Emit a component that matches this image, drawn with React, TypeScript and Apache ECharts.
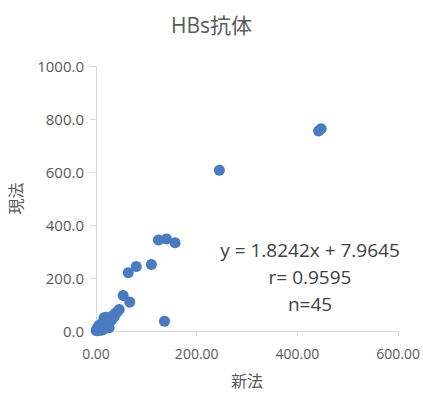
import React, { useEffect, useRef } from "react";
import * as echarts from "echarts";

const title = "HBs抗体";
const xName = "新法";
const yName = "現法";
const annotationLines = ["y = 1.8242x + 7.9645", "r= 0.9595", "n=45"];

const xTicks = [0, 200, 400, 600];
const yTicks = [0, 200, 400, 600, 800, 1000];

const newMethod = [
  442, 447, 245, 124, 140, 157, 110, 80, 64, 54, 67, 136, 46,
  38, 34, 30, 27, 24, 20, 16, 22, 18, 14, 10, 6, 4, 2, 1, 0.5, 3,
  8, 12, 16, 20, 24, 28, 32, 20, 26, 7, 11, 5, 15, 36, 42,
];
const currentMethod = [
  755, 763, 607, 343, 347, 333, 251, 243, 220, 134, 109, 37, 81,
  66, 58, 52, 48, 44, 52, 50, 38, 34, 30, 26, 22, 14, 8, 4, 2, 1,
  5, 12, 18, 22, 28, 36, 44, 10, 12, 10, 3, 5, 8, 54, 72,
];

const FONT = "'Open Sans', 'Noto Sans CJK JP', sans-serif";

export default function App() {
  const ref = useRef<HTMLDivElement>(null);
  useEffect(() => {
    if (!ref.current) return;
    const chart = echarts.init(ref.current, undefined, { renderer: "svg" });
    const data = newMethod.map((x, i) => [x, currentMethod[i]]);
    chart.setOption({
      animation: false,
      backgroundColor: "#ffffff",
      textStyle: { fontFamily: FONT },
      title: {
        text: title,
        left: "center",
        top: 9,
        textStyle: { fontSize: 21, fontWeight: "normal", color: "#595959", fontFamily: FONT },
      },
      grid: { left: 95, right: 24, top: 66, bottom: 58 },
      xAxis: {
        type: "value",
        min: xTicks[0],
        max: xTicks[xTicks.length - 1],
        interval: 200,
        name: xName,
        nameLocation: "middle",
        nameGap: 42,
        nameTextStyle: { fontSize: 16, color: "#595959", fontFamily: FONT },
        axisLine: { show: true, lineStyle: { color: "#d9d9d9", width: 1 } },
        axisTick: { show: true, length: 5, lineStyle: { color: "#d9d9d9" } },
        splitLine: { show: false },
        axisLabel: {
          fontSize: 14,
          color: "#595959",
          margin: 15,
          fontFamily: FONT,
          formatter: (v: number) => v.toFixed(2),
        },
      },
      yAxis: {
        type: "value",
        min: yTicks[0],
        max: yTicks[yTicks.length - 1],
        interval: 200,
        name: yName,
        nameLocation: "middle",
        nameGap: 72,
        nameRotate: 90,
        nameTextStyle: { fontSize: 16, color: "#595959", fontFamily: FONT },
        axisLine: { show: true, lineStyle: { color: "#d9d9d9", width: 1 } },
        axisTick: { show: true, length: 6, lineStyle: { color: "#d9d9d9" } },
        splitLine: { show: false },
        axisLabel: {
          fontSize: 15,
          color: "#595959",
          margin: 12,
          fontFamily: FONT,
          formatter: (v: number) => v.toFixed(1),
        },
      },
      series: [
        {
          type: "scatter",
          data,
          symbol: "circle",
          symbolSize: 11,
          itemStyle: { color: "#4a7bc0", opacity: 1 },
        },
      ],
      graphic: annotationLines.map((t, i) => ({
        type: "text",
        x: 310,
        y: 250 + i * 27,
        style: {
          text: t,
          fontSize: 19,
          fill: "#404040",
          fontFamily: FONT,
          textAlign: "center",
          textVerticalAlign: "middle",
        },
      })),
    });
    return () => chart.dispose();
  }, []);
  return (
    <div
      ref={ref}
      style={{ position: "fixed", left: 0, top: 0, width: 423, height: 394 }}
    />
  );
}
